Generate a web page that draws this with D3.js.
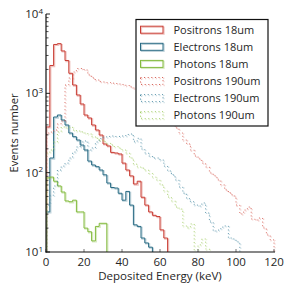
<!DOCTYPE html>
<html><head><meta charset="utf-8">
<script src="https://cdn.jsdelivr.net/npm/d3@7"></script>
<style>
html,body{margin:0;padding:0;background:#fff;}
svg{display:block;}
text{font-family:"Open Sans",sans-serif;fill:#262626;}
</style>
</head><body>
<svg id="c" width="284" height="283"></svg>
<script>
// ---- data (counts per 2 keV bin, starting at 0 keV) ----
const binWidth = 2;
const seriesNames = ["Positrons 18um","Electrons 18um","Photons 18um","Positrons 190um","Electrons 190um","Photons 190um"];
const positrons18 = [377,2244,4130,4230,3420,2594,1790,1274,953,734,533,489,399,345,298,230,217,180,177,172,132,108,91,72,78,49,39,32,29,28,19,15];
const electrons18 = [32,153,503,533,461,399,316,284,258,223,193,140,125,119,108,94,74,65,64,55,45,58,39,22,21,15,13,11.5];
const photons18 = [86,88,78,68,57,44,43,45,32,32,20,18,13.8,21,23,23];
const positrons190 = [316,325,345,412,448,1274,1560,1857,2056,2056,1967,1703,1560,1472,1402,1391,1366,1344,1330,1312,1293,1255,1202,1167,1135,1071,1010,925,849,778,692,598,503,423,366,316,258,230,193,162,149,132,118,99,91,81,70,60.5,55.4,50.8,39.1,30.1,33.8,36.9,26.1,25.3,26.8,20.1,16.4,14.2];
const electrons190 = [39,52,68,108,121,132,153,182,211,244,251,193,205,244,270,282,286,290,286,286,290,303,307,245,271,199,177,162,153,153,144,121,105,93.5,81,66,55,47,43,39,38,41.5,31,23.9,18.4,18.9,20.6,21.3,15,14.6,13.4];
const photons190 = [177,193,244,326,377,366,377,345,335,326,316,307,284,271,258,246,234,223,213,203,193,177,153,128,118,114,108,97.7,88,81,70,58.7,49.3,44,36.9,34.8,21.3,20.1,22.6,0,12.3,14.6,10.9];
const seriesData = [positrons18,electrons18,photons18,positrons190,electrons190,photons190];
const seriesColors = ["#c93c33","#276a83","#82ba3c","#d4574c","#4a8ba3","#9cc95a"];
const seriesDotted = [false,false,false,true,true,true];
const xTickValues = [0,20,40,60,80,100,120];
const yTickExponents = [1,2,3,4];
const xLabel = "Deposited Energy (keV)";
const yLabel = "Events number";

// ---- layout ----
const L = 46, R = 274, T = 14, B = 252;
const svg = d3.select("#c");
const x = d3.scaleLinear().domain([0,120]).range([L,R]);
const y = d3.scaleLog().domain([10,10000]).range([B,T]);
const yv = v => v > 0 ? y(v) : B + 30;

svg.append("defs").append("clipPath").attr("id","clip")
  .append("rect").attr("x",L).attr("y",T-2).attr("width",R-L+2).attr("height",B-T+2);

const plot = svg.append("g").attr("clip-path","url(#clip)");

function stepPoints(vals){
  const pts = [[0, 0]];
  vals.forEach((v,i)=>{ pts.push([i*binWidth, v]); pts.push([(i+1)*binWidth, v]); });
  pts.push([vals.length*binWidth, 0]);
  return pts;
}
const line = d3.line().x(d=>x(d[0])).y(d=>yv(d[1]));

seriesData.forEach((vals,i)=>{
  const d = line(stepPoints(vals));
  const dash = seriesDotted[i] ? "1,2.6" : null;
  plot.append("path").attr("d",d).attr("transform","translate(1,1)")
    .attr("fill","none").attr("stroke",seriesColors[i]).attr("stroke-opacity",0.3)
    .attr("stroke-width",1.3).attr("stroke-dasharray",dash);
  plot.append("path").attr("d",d)
    .attr("fill","none").attr("stroke",seriesColors[i]).attr("stroke-opacity",seriesDotted[i]?0.85:1)
    .attr("stroke-width",1).attr("stroke-dasharray",dash);
});

// ---- axes ----
const ax = svg.append("g");
xTickValues.forEach(t=>{
  ax.append("line").attr("x1",x(t)).attr("x2",x(t)).attr("y1",B).attr("y2",B-3)
    .attr("stroke","#777").attr("stroke-width",1);
  ax.append("text").attr("x",x(t)).attr("y",B+14).attr("text-anchor","middle")
    .attr("font-size","11.5px").text(t);
});
yTickExponents.slice(0,-1).forEach(e=>{
  for(let m=2;m<=9;m++){
    const v = m*Math.pow(10,e);
    ax.append("line").attr("x1",L).attr("x2",L+2.5).attr("y1",y(v)).attr("y2",y(v))
      .attr("stroke","#222").attr("stroke-width",0.8);
  }
});
yTickExponents.forEach(e=>{
  const v = Math.pow(10,e);
  ax.append("line").attr("x1",L).attr("x2",L+4).attr("y1",y(v)).attr("y2",y(v))
    .attr("stroke","#222").attr("stroke-width",1);
  const t = ax.append("text").attr("x",L-3).attr("y",y(v)+4).attr("text-anchor","end")
    .attr("font-size","11.5px");
  t.append("tspan").text("10");
  t.append("tspan").attr("dy",-4.5).attr("font-size","8px").text(e);
});
ax.append("line").attr("x1",L).attr("x2",L).attr("y1",T).attr("y2",B+0.5).attr("stroke","#111").attr("stroke-width",1.2);
ax.append("line").attr("x1",L-0.5).attr("x2",R+1).attr("y1",B).attr("y2",B).attr("stroke","#111").attr("stroke-width",1.2);

svg.append("text").attr("x",(L+R)/2).attr("y",279.5).attr("text-anchor","middle")
  .attr("font-size","11.5px").text(xLabel);
svg.append("text").attr("transform",`translate(18,${(T+B)/2}) rotate(-90)`).attr("text-anchor","middle")
  .attr("font-size","11.2px").text(yLabel);

// ---- legend ----
const lg = svg.append("g");
lg.append("rect").attr("x",136).attr("y",19.5).attr("width",132).attr("height",106.5)
  .attr("fill","#fff").attr("stroke","#111").attr("stroke-width",1.2);
seriesNames.forEach((name,i)=>{
  const cy = 29.7 + i*17.1;
  const dash = seriesDotted[i] ? "1,2.6" : null;
  lg.append("rect").attr("x",140.5).attr("y",cy-3.5).attr("width",22.5).attr("height",7)
    .attr("transform","translate(1,1)").attr("fill","none").attr("stroke",seriesColors[i])
    .attr("stroke-opacity",0.3).attr("stroke-width",1.3).attr("stroke-dasharray",dash);
  lg.append("rect").attr("x",140.5).attr("y",cy-3.5).attr("width",22.5).attr("height",7)
    .attr("fill","none").attr("stroke",seriesColors[i]).attr("stroke-width",1)
    .attr("stroke-dasharray",dash);
  lg.append("text").attr("x",173.5).attr("y",cy+4).attr("font-size","11px").text(name);
});
</script>
</body></html>
